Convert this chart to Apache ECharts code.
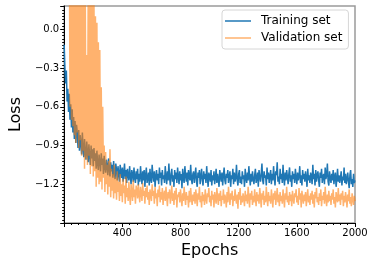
<!DOCTYPE html>
<html>
<head>
<meta charset="utf-8">
<script src="https://cdn.jsdelivr.net/npm/echarts@6/dist/echarts.min.js"></script>
<style>
html,body{margin:0;padding:0;background:#fff;}
#chart{width:374px;height:266px;}
</style>
</head>
<body>
<div id="chart"></div>
<script>
const epochStep = 5;
const xTicks = [400, 800, 1200, 1600, 2000];
const yTicks = [0.0, -0.3, -0.6, -0.9, -1.2];
const seriesNames = ['Training set', 'Validation set'];

const trainLoss = [
-0.12,-0.30,-0.42,-0.32,-0.56,-0.46,-0.64,-0.50,-0.70,-0.58,
-0.76,-0.62,-0.80,-0.68,-0.85,-0.71,-0.88,-0.74,-0.80,-0.92,
-0.78,-0.94,-0.82,-0.88,-0.97,-0.80,-0.92,-0.99,-0.85,-0.96,
-1.01,-0.87,-0.95,-1.03,-0.89,-0.98,-1.05,-0.90,-1.00,-0.93,
-1.06,-0.92,-1.02,-0.96,-1.08,-0.94,-1.04,-1.09,-0.97,-1.03,
-1.10,-0.96,-1.05,-1.00,-1.12,-0.98,-1.07,-1.11,-1.01,-1.06,
-1.13,-1.00,-1.08,-1.14,-1.03,-1.10,-1.05,-1.15,-1.02,-1.11,
-1.16,-1.04,-1.09,-1.17,-1.06,-1.12,-1.18,-1.05,-1.10,-1.15,
-1.07,-1.18,-1.11,-1.04,-1.16,-1.09,-1.19,-1.08,-1.13,-1.17,
-1.06,-1.14,-1.20,-1.09,-1.12,-1.18,-1.07,-1.15,-1.19,-1.10,
-1.16,-1.08,-1.21,-1.12,-1.18,-1.06,-1.14,-1.20,-1.10,-1.17,
-1.09,-1.22,-1.13,-1.07,-1.19,-1.15,-1.11,-1.21,-1.08,-1.16,
-1.19,-1.05,-1.13,-1.18,-1.10,-1.22,-1.14,-1.09,-1.17,-1.12,
-1.20,-1.07,-1.15,-1.11,-1.21,-1.09,-1.16,-1.13,-1.19,-1.06,
-1.14,-1.20,-1.10,-1.17,-1.04,-1.15,-1.21,-1.12,-1.08,-1.18,
-1.13,-1.22,-1.09,-1.16,-1.11,-1.19,-1.07,-1.14,-1.20,-1.10,
-1.17,-1.12,-1.23,-1.08,-1.15,-1.19,-1.06,-1.13,-1.18,-1.11,
-1.21,-1.09,-1.14,-1.17,-1.05,-1.16,-1.20,-1.12,-1.10,-1.19,
-1.13,-1.07,-1.18,-1.22,-1.11,-1.15,-1.09,-1.20,-1.14,-1.08,
-1.17,-1.21,-1.10,-1.16,-1.12,-1.19,-1.06,-1.15,-1.22,-1.11,
-1.14,-1.18,-1.09,-1.21,-1.13,-1.17,-1.10,-1.20,-1.15,-1.08,
-1.19,-1.12,-1.16,-1.22,-1.09,-1.14,-1.18,-1.11,-1.21,-1.13,
-1.07,-1.17,-1.20,-1.12,-1.15,-1.09,-1.19,-1.14,-1.10,-1.22,
-1.13,-1.16,-1.08,-1.20,-1.11,-1.18,-1.15,-1.05,-1.17,-1.21,
-1.12,-1.09,-1.19,-1.14,-1.20,-1.10,-1.16,-1.13,-1.22,-1.08,
-1.15,-1.19,-1.11,-1.17,-1.06,-1.14,-1.21,-1.12,-1.18,-1.10,
-1.16,-1.20,-1.13,-1.08,-1.19,-1.15,-1.11,-1.22,-1.09,-1.14,
-1.18,-1.12,-1.04,-1.17,-1.20,-1.10,-1.15,-1.13,-1.21,-1.07,
-1.16,-1.11,-1.19,-1.14,-1.09,-1.20,-1.12,-1.17,-1.06,-1.15,
-1.21,-1.10,-1.13,-1.03,-1.18,-1.14,-1.20,-1.08,-1.16,-1.12,
-1.19,-1.05,-1.15,-1.21,-1.11,-1.17,-1.09,-1.14,-1.20,-1.12,
-1.07,-1.18,-1.13,-1.22,-1.10,-1.16,-1.12,-1.19,-1.08,-1.15,
-1.20,-1.11,-1.17,-1.14,-1.06,-1.19,-1.13,-1.21,-1.09,-1.16,
-1.12,-1.18,-1.10,-1.15,-1.22,-1.08,-1.17,-1.13,-1.19,-1.11,
-1.14,-1.20,-1.05,-1.16,-1.12,-1.21,-1.09,-1.18,-1.13,-1.10,
-1.17,-1.22,-1.11,-1.15,-1.08,-1.19,-1.14,-1.12,-1.20,-1.07,
-1.16,-1.13,-1.04,-1.18,-1.21,-1.10,-1.15,-1.19,-1.12,-1.17,
-1.09,-1.20,-1.14,-1.11,-1.22,-1.16,-1.08,-1.18,-1.13,-1.19,
-1.15,-1.10,-1.21,-1.14,-1.17,-1.07,-1.19,-1.12,-1.20,-1.16,
-1.11,-1.18,-1.23,-1.13,-1.09,-1.20,-1.16,-1.22,-1.12,-1.19,
-1.17
];

const valLoss = [
1.60,1.45,1.30,1.20,1.10,1.00,0.90,0.80,-0.60,0.50,
-0.70,0.45,-0.75,0.45,-0.82,0.40,-0.88,0.40,-0.80,0.38,
-0.92,0.35,-0.86,0.35,-0.98,0.30,-0.94,0.30,-1.08,0.28,
-1.00,-0.20,-1.05,0.25,-0.98,0.22,-1.12,0.22,-1.06,0.20,
-1.14,0.20,-1.10,0.10,-1.22,0.05,-1.15,-0.10,-1.20,-0.16,
-1.18,-0.45,-1.24,-0.60,-1.15,-0.90,-1.26,-0.95,-1.20,-1.05,
-1.28,-1.02,-1.22,-0.93,-1.30,-1.08,-1.25,-1.12,-1.31,-1.05,
-1.27,-1.15,-1.32,-1.10,-1.26,-1.18,-1.33,-1.12,-1.29,-1.20,
-1.34,-1.16,-1.27,-1.21,-1.35,-1.14,-1.30,-1.23,-1.33,-1.18,
-1.29,-1.36,-1.20,-1.26,-1.33,-1.17,-1.30,-1.24,-1.35,-1.21,
-1.24,-1.31,-1.20,-1.28,-1.34,-1.22,-1.27,-1.33,-1.19,-1.29,
-1.25,-1.35,-1.23,-1.30,-1.21,-1.32,-1.26,-1.36,-1.24,-1.28,
-1.33,-1.20,-1.29,-1.25,-1.35,-1.22,-1.31,-1.27,-1.37,-1.24,
-1.30,-1.21,-1.34,-1.26,-1.32,-1.23,-1.36,-1.28,-1.25,-1.33,
-1.22,-1.30,-1.37,-1.26,-1.31,-1.24,-1.35,-1.29,-1.21,-1.33,
-1.27,-1.36,-1.25,-1.32,-1.23,-1.38,-1.28,-1.30,-1.26,-1.34,
-1.24,-1.31,-1.37,-1.27,-1.33,-1.22,-1.30,-1.36,-1.26,-1.32,
-1.29,-1.38,-1.25,-1.34,-1.23,-1.31,-1.36,-1.28,-1.33,-1.26,
-1.35,-1.24,-1.30,-1.37,-1.27,-1.32,-1.22,-1.34,-1.29,-1.38,
-1.26,-1.33,-1.28,-1.36,-1.24,-1.31,-1.35,-1.27,-1.30,-1.23,
-1.34,-1.29,-1.37,-1.25,-1.32,-1.28,-1.38,-1.26,-1.31,-1.35,
-1.23,-1.30,-1.36,-1.27,-1.33,-1.25,-1.37,-1.29,-1.32,-1.24,
-1.35,-1.28,-1.31,-1.38,-1.26,-1.34,-1.22,-1.30,-1.36,-1.27,
-1.32,-1.25,-1.37,-1.29,-1.33,-1.24,-1.31,-1.35,-1.28,-1.39,
-1.26,-1.32,-1.23,-1.36,-1.29,-1.34,-1.27,-1.31,-1.37,-1.25,
-1.33,-1.28,-1.35,-1.22,-1.30,-1.38,-1.27,-1.32,-1.25,-1.36,
-1.29,-1.34,-1.24,-1.31,-1.37,-1.26,-1.33,-1.28,-1.35,-1.23,
-1.30,-1.38,-1.27,-1.32,-1.25,-1.36,-1.29,-1.34,-1.22,-1.31,
-1.37,-1.26,-1.33,-1.29,-1.35,-1.24,-1.31,-1.38,-1.27,-1.32,
-1.25,-1.36,-1.30,-1.23,-1.34,-1.28,-1.37,-1.26,-1.33,-1.29,
-1.35,-1.24,-1.31,-1.38,-1.27,-1.32,-1.22,-1.34,-1.29,-1.36,
-1.26,-1.33,-1.28,-1.37,-1.25,-1.31,-1.35,-1.27,-1.30,-1.24,
-1.34,-1.29,-1.36,-1.23,-1.32,-1.27,-1.38,-1.25,-1.31,-1.35,
-1.28,-1.33,-1.26,-1.37,-1.30,-1.24,-1.34,-1.29,-1.36,-1.27,
-1.32,-1.25,-1.35,-1.28,-1.38,-1.26,-1.31,-1.23,-1.34,-1.30,
-1.36,-1.27,-1.33,-1.24,-1.37,-1.29,-1.32,-1.26,-1.35,-1.22,
-1.31,-1.37,-1.28,-1.34,-1.25,-1.33,-1.29,-1.36,-1.27,-1.32,
-1.24,-1.35,-1.30,-1.38,-1.26,-1.31,-1.34,-1.23,-1.33,-1.28,
-1.36,-1.27,-1.32,-1.25,-1.37,-1.29,-1.34,-1.26,-1.31,-1.38,
-1.28,-1.33,-1.24,-1.35,-1.30,-1.37,-1.27,-1.32,-1.36,-1.29,
-1.33
];

const trainData = trainLoss.map((v, i) => [i * epochStep, v]);
const valData = valLoss.map((v, i) => [i * epochStep, v]);

const FONT = 'DejaVu Sans';
const fmtY = v => {
  if (!yTicks.some(t => Math.abs(t - v) < 1e-6)) return '';
  const s = Math.abs(v).toFixed(1);
  return (v < -1e-9 ? '\u2212' : '') + s;
};
const fmtX = v => xTicks.indexOf(Math.round(v)) >= 0 ? String(Math.round(v)) : '';

const chart = echarts.init(document.getElementById('chart'), null, {renderer: 'canvas'});
chart.setOption({
  animation: false,
  backgroundColor: '#fff',
  grid: {
    left: 57, right: 19, top: 6, bottom: 43,
    show: true, borderColor: '#9a9a9a', borderWidth: 1.5, backgroundColor: 'transparent'
  },
  legend: {
    left: 222, top: 10,
    orient: 'vertical',
    data: [
      {name: seriesNames[0], icon: 'rect', itemStyle: {color: '#1f77b4'}},
      {name: seriesNames[1], icon: 'rect', itemStyle: {color: '#ffb26e'}}
    ],
    itemWidth: 26, itemHeight: 1.5, itemGap: 3,
    padding: [4, 6, 4, 3],
    backgroundColor: '#fff',
    borderColor: '#d6d6d6', borderWidth: 1, borderRadius: 3,
    textStyle: {fontFamily: FONT, fontSize: 12, color: '#000', lineHeight: 14, padding: [0, 0, 0, 5]}
  },
  xAxis: {
    type: 'value', min: 0, max: 2000, interval: 400,
    name: 'Epochs', nameLocation: 'middle', nameGap: 18,
    nameTextStyle: {fontFamily: FONT, fontSize: 16, color: '#000'},
    axisLine: {onZero: false, lineStyle: {color: '#000', width: 1}},
    axisTick: {show: true, length: 4, lineStyle: {color: '#000'}},
    minorTick: {show: true, splitNumber: 8, length: 2, lineStyle: {color: '#000'}},
    axisLabel: {fontFamily: FONT, fontSize: 10, color: '#000', margin: 5, formatter: fmtX},
    splitLine: {show: false}
  },
  yAxis: {
    type: 'value', min: -1.5, max: 0.18, interval: 0.3,
    name: 'Loss', nameLocation: 'middle', nameGap: 37,
    nameTextStyle: {fontFamily: FONT, fontSize: 16, color: '#000'},
    axisLine: {show: true, onZero: false, lineStyle: {color: '#000', width: 1}},
    axisTick: {show: true, length: 4, lineStyle: {color: '#000'}},
    minorTick: {show: true, splitNumber: 12, length: 2, lineStyle: {color: '#000'}},
    axisLabel: {fontFamily: FONT, fontSize: 10, color: '#000', margin: 5, formatter: fmtY, showMaxLabel: false},
    splitLine: {show: false}
  },
  series: [
    {
      name: seriesNames[0], type: 'line', data: trainData,
      showSymbol: false, symbol: 'none', clip: true,
      lineStyle: {color: '#1f77b4', width: 1.5},
      itemStyle: {color: '#1f77b4'}
    },
    {
      name: seriesNames[1], type: 'line', data: valData,
      showSymbol: false, symbol: 'none', clip: true,
      lineStyle: {color: '#ff7f0e', width: 1.5, opacity: 0.6},
      itemStyle: {color: '#ffb26e'}
    }
  ]
});
</script>
</body>
</html>
